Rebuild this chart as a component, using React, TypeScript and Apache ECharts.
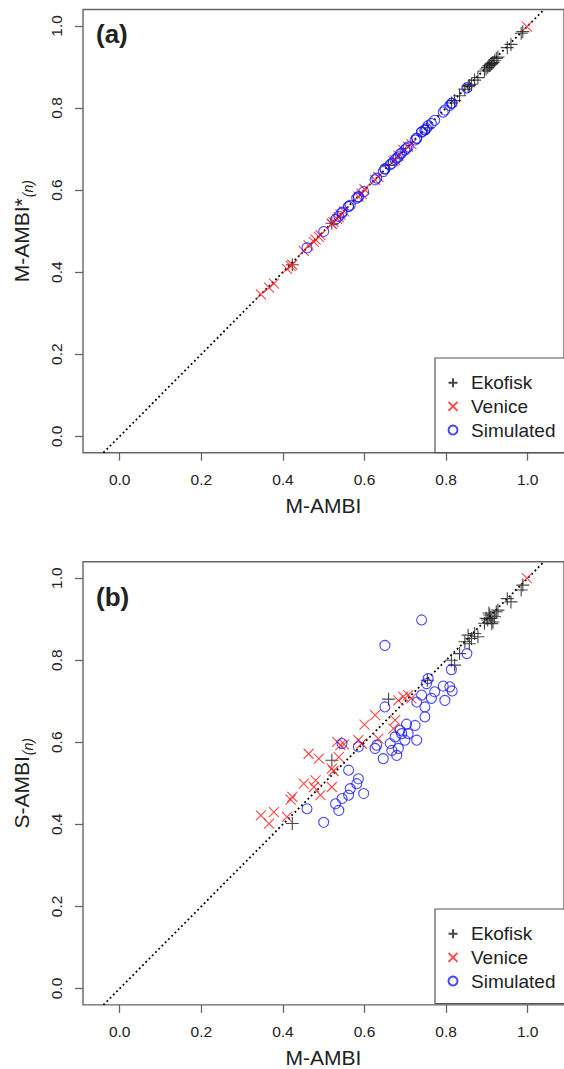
import React, { useEffect, useRef } from "react";
import * as echarts from "echarts";

// ---- data ----
const tickValues = [0, 0.2, 0.4, 0.6, 0.8, 1.0];
const legendNames = ["Ekofisk", "Venice", "Simulated"];

// M-AMBI (x) for each group
const ekofiskMAMBI = [0.423, 0.520, 0.659, 0.754, 0.821, 0.813, 0.833, 0.846, 0.862, 0.854, 0.870, 0.878, 0.857, 0.894, 0.902, 0.910, 0.919, 0.907, 0.898, 0.915, 0.923, 0.927, 0.905, 0.912, 0.959, 0.950, 0.984, 0.988];
const ekofiskMAMBIstar = [0.418, 0.519, 0.660, 0.752, 0.818, 0.812, 0.830, 0.846, 0.858, 0.852, 0.868, 0.874, 0.855, 0.890, 0.899, 0.907, 0.915, 0.904, 0.895, 0.911, 0.921, 0.924, 0.903, 0.908, 0.955, 0.947, 0.982, 0.986];
const ekofiskSAMBI = [0.402, 0.556, 0.705, 0.751, 0.788, 0.800, 0.816, 0.845, 0.853, 0.861, 0.865, 0.857, 0.840, 0.890, 0.898, 0.902, 0.906, 0.910, 0.902, 0.893, 0.918, 0.922, 0.915, 0.889, 0.942, 0.950, 0.971, 0.983];

const veniceMAMBI = [0.998, 0.695, 0.707, 0.715, 0.683, 0.626, 0.600, 0.675, 0.671, 0.634, 0.585, 0.593, 0.533, 0.541, 0.463, 0.488, 0.537, 0.520, 0.524, 0.451, 0.480, 0.476, 0.520, 0.492, 0.423, 0.419, 0.346, 0.378, 0.366, 0.410, 0.550];
const veniceMAMBIstar = [0.998, 0.698, 0.706, 0.712, 0.684, 0.625, 0.602, 0.673, 0.670, 0.632, 0.584, 0.591, 0.530, 0.540, 0.465, 0.486, 0.534, 0.518, 0.522, 0.452, 0.479, 0.474, 0.517, 0.490, 0.418, 0.415, 0.346, 0.372, 0.362, 0.408, 0.548];
const veniceSAMBI = [1.000, 0.711, 0.715, 0.707, 0.702, 0.666, 0.643, 0.654, 0.633, 0.609, 0.605, 0.597, 0.601, 0.593, 0.572, 0.560, 0.564, 0.536, 0.530, 0.499, 0.507, 0.491, 0.491, 0.471, 0.467, 0.460, 0.422, 0.430, 0.402, 0.418, 0.595];

const simMAMBI = [0.740, 0.650, 0.851, 0.813, 0.756, 0.752, 0.793, 0.809, 0.815, 0.772, 0.797, 0.740, 0.728, 0.650, 0.764, 0.748, 0.748, 0.724, 0.703, 0.687, 0.691, 0.707, 0.699, 0.728, 0.675, 0.663, 0.667, 0.683, 0.679, 0.646, 0.626, 0.630, 0.585, 0.545, 0.561, 0.585, 0.581, 0.598, 0.561, 0.545, 0.529, 0.537, 0.459, 0.500, 0.565];
const simMAMBIstar = [0.742, 0.652, 0.849, 0.811, 0.757, 0.750, 0.790, 0.806, 0.812, 0.770, 0.795, 0.741, 0.726, 0.651, 0.762, 0.746, 0.747, 0.722, 0.702, 0.688, 0.690, 0.705, 0.698, 0.726, 0.674, 0.662, 0.665, 0.681, 0.678, 0.645, 0.625, 0.629, 0.584, 0.546, 0.560, 0.583, 0.580, 0.596, 0.560, 0.544, 0.528, 0.536, 0.459, 0.499, 0.563];
const simSAMBI = [0.898, 0.836, 0.816, 0.777, 0.755, 0.743, 0.737, 0.735, 0.725, 0.723, 0.702, 0.715, 0.698, 0.686, 0.707, 0.686, 0.662, 0.641, 0.644, 0.629, 0.621, 0.621, 0.605, 0.605, 0.613, 0.597, 0.580, 0.585, 0.568, 0.560, 0.585, 0.593, 0.589, 0.597, 0.532, 0.511, 0.499, 0.475, 0.471, 0.463, 0.450, 0.434, 0.438, 0.405, 0.487];

const oneToOne = [-0.04, 1.04];

// ---- styling ----
const FONT = "'Liberation Sans', Arial, Helvetica, sans-serif";
const FRAME = "#666";
const TEXT = "#222";
const PLUS = "path://M0,5L10,5M5,0L5,10";
const CROSS = "path://M0,0L10,10M0,10L10,0";

const zip = (a: number[], b: number[]) => a.map((v, i) => [v, b[i]]);

const panelTops = [9.5, 561.7];
const panelLabels = ["(a)", "(b)"];
const panelLabelTops = [21, 584];
const legendTops = [358, 909];
const yNames = [
  "{a|M-AMBI*}{s|(n)}",
  "{a|S-AMBI}{s|(n)}",
];

function buildOption() {
  const grids = panelTops.map((top) => ({
    left: 83,
    top,
    width: 484,
    height: 443.2,
    show: true,
    borderColor: FRAME,
    borderWidth: 1.4,
    backgroundColor: "transparent",
  }));

  const xAxes = panelTops.map((_, i) => ({
    type: "value",
    gridIndex: i,
    min: -0.09,
    max: 1.089,
    axisLine: { show: false, onZero: false },
    splitLine: { show: false },
    axisTick: {
      show: true,
      inside: false,
      length: 8,
      customValues: tickValues,
      lineStyle: { color: FRAME, width: 1.3 },
    },
    axisLabel: {
      customValues: tickValues,
      formatter: (v: number) => v.toFixed(1),
      fontSize: 15.5,
      color: TEXT,
      fontFamily: FONT,
      margin: 19,
    },
    name: "M-AMBI",
    nameLocation: "middle",
    nameGap: 42,
    nameTextStyle: { fontSize: 21, color: TEXT, fontFamily: FONT },
  }));

  const yAxes = panelTops.map((_, i) => ({
    type: "value",
    gridIndex: i,
    min: -0.04,
    max: 1.04,
    axisLine: { show: false, onZero: false },
    splitLine: { show: false },
    axisTick: {
      show: true,
      inside: false,
      length: 8,
      customValues: tickValues,
      lineStyle: { color: FRAME, width: 1.3 },
    },
    axisLabel: {
      customValues: tickValues,
      formatter: (v: number) => v.toFixed(1),
      fontSize: 15.5,
      color: TEXT,
      fontFamily: FONT,
      rotate: 90,
      margin: 19,
    },
    name: yNames[i],
    nameLocation: "middle",
    nameGap: 48,
    nameTextStyle: {
      color: TEXT,
      fontFamily: FONT,
      rich: {
        a: { fontSize: 21, lineHeight: 24, color: TEXT, fontFamily: FONT, verticalAlign: "top" },
        s: {
          fontSize: 14,
          lineHeight: 16,
          fontStyle: "italic",
          color: TEXT,
          fontFamily: FONT,
          verticalAlign: "bottom",
          padding: [12, 0, 0, 1],
        },
      },
    },
  }));

  const panelY = [
    [ekofiskMAMBIstar, veniceMAMBIstar, simMAMBIstar],
    [ekofiskSAMBI, veniceSAMBI, simSAMBI],
  ];
  const xs = [ekofiskMAMBI, veniceMAMBI, simMAMBI];

  const series: any[] = [];
  panelTops.forEach((_, i) => {
    series.push({
      type: "line",
      name: "1:1",
      xAxisIndex: i,
      yAxisIndex: i,
      data: zip(oneToOne, oneToOne),
      symbol: "none",
      silent: true,
      z: 1,
      lineStyle: { color: "#000", width: 1.8, type: [1.8, 2.8] },
    });
    series.push({
      type: "scatter",
      name: "Ekofisk",
      xAxisIndex: i,
      yAxisIndex: i,
      data: zip(xs[0], panelY[i][0]),
      symbol: PLUS,
      symbolSize: 13,
      z: 2,
      itemStyle: { color: "rgba(0,0,0,0)", borderColor: "#1a1a1a", borderWidth: 1.1 },
    });
    series.push({
      type: "scatter",
      name: "Venice",
      xAxisIndex: i,
      yAxisIndex: i,
      data: zip(xs[1], panelY[i][1]),
      symbol: CROSS,
      symbolSize: 10,
      z: 3,
      itemStyle: { color: "rgba(0,0,0,0)", borderColor: "#ff1a1a", borderWidth: 1.1 },
    });
    series.push({
      type: "scatter",
      name: "Simulated",
      xAxisIndex: i,
      yAxisIndex: i,
      data: zip(xs[2], panelY[i][2]),
      symbol: "circle",
      symbolSize: 10,
      z: 4,
      itemStyle: { color: "rgba(0,0,0,0)", borderColor: "#1a1aff", borderWidth: 1.1 },
    });
  });

  const legends = legendTops.map((top) => ({
    left: 435,
    top,
    orient: "vertical",
    padding: [12.8, 60, 10.7, 12.5],
    itemWidth: 9,
    itemHeight: 9,
    itemGap: 0,
    borderColor: "#555",
    borderWidth: 1.2,
    backgroundColor: "#fff",
    selectedMode: false,
    data: legendNames,
    textStyle: {
      fontSize: 19,
      lineHeight: 23.7,
      color: TEXT,
      fontFamily: FONT,
      padding: [0, 0, 0, 8.5],
    },
  }));

  const titles = panelLabels.map((t, i) => ({
    text: t,
    left: 96,
    top: panelLabelTops[i],
    padding: 0,
    textStyle: { fontSize: 26, fontWeight: "bold", color: TEXT, fontFamily: FONT },
  }));

  return {
    animation: false,
    backgroundColor: "#fff",
    title: titles,
    grid: grids,
    xAxis: xAxes,
    yAxis: yAxes,
    legend: legends,
    series,
  };
}

export default function App() {
  const ref = useRef<HTMLDivElement>(null);
  useEffect(() => {
    if (!ref.current) return;
    const chart = echarts.init(ref.current, null, { renderer: "svg" });
    chart.setOption(buildOption() as any);
    return () => chart.dispose();
  }, []);
  return (
    <div
      ref={ref}
      style={{ position: "absolute", left: 0, top: 0, width: 564, height: 1069, background: "#fff" }}
    />
  );
}
